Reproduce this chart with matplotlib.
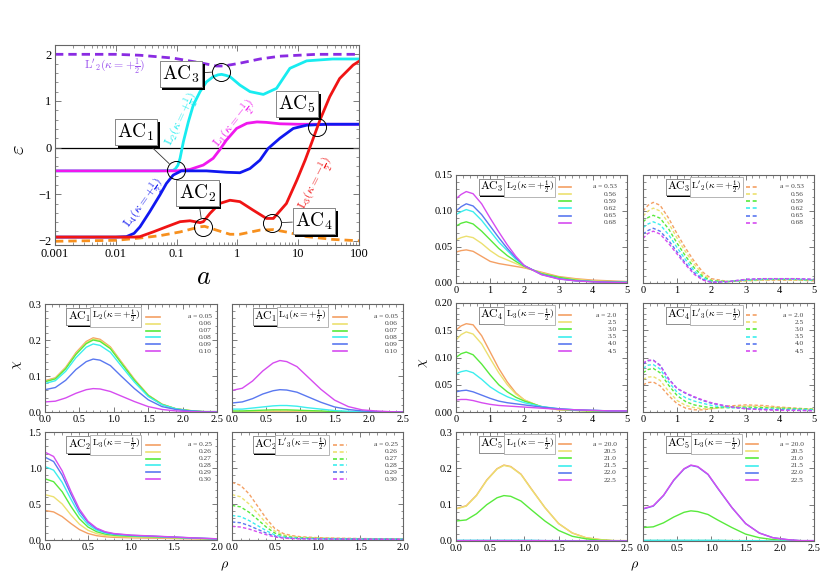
import matplotlib
matplotlib.use('Agg')
import matplotlib.pyplot as plt
from matplotlib import patheffects
from matplotlib.lines import Line2D
from matplotlib.ticker import MultipleLocator, FormatStrFormatter, LogLocator, NullFormatter, FixedLocator, FixedFormatter

plt.rcParams['font.family'] = ['Liberation Serif', 'DejaVu Serif']
plt.rcParams['mathtext.fontset'] = 'cm'

# ---------------- main panel: energy levels vs a ----------------
a_L2 = [0.001, 0.01, 0.05, 0.087, 0.095, 0.105, 0.114, 0.129, 0.156, 0.188, 0.243, 0.31, 0.40, 0.48, 0.55,
        0.64, 0.755, 1.1, 1.61, 2.67, 4.4, 7.3, 13.8, 37, 100]
eps_L2 = [-0.5, -0.5, -0.5, -0.49, -0.46, -0.38, -0.23, 0.12, 0.55, 0.91, 1.2, 1.41, 1.52, 1.56, 1.57,
          1.55, 1.52, 1.34, 1.2, 1.14, 1.27, 1.70, 1.86, 1.90, 1.90]

a_L1 = [0.001, 0.01, 0.1, 0.166, 0.275, 0.40, 0.51, 0.66, 0.97, 1.43, 2.1, 3.0, 5.0, 10, 17.6, 100]
eps_L1 = [-0.5, -0.5, -0.5, -0.47, -0.375, -0.23, -0.05, 0.16, 0.41, 0.52, 0.55, 0.54, 0.51, 0.5, 0.5, 0.5]

a_L4 = [0.001, 0.01, 0.015, 0.02, 0.025, 0.036, 0.053, 0.068, 0.088, 0.12, 0.31, 0.66, 1.1, 1.61,
        2.35, 3.2, 5.0, 8.3, 13.8, 30, 100]
eps_L4 = [-1.92, -1.92, -1.91, -1.84, -1.70, -1.38, -1.02, -0.77, -0.59, -0.5, -0.5, -0.53, -0.54, -0.45,
          -0.27, -0.02, 0.2, 0.41, 0.48, 0.5, 0.5]

a_L3 = [0.001, 0.01, 0.02, 0.025, 0.041, 0.068, 0.114, 0.166, 0.243, 0.275, 0.355, 0.51, 0.755, 1.1,
        1.8, 3.0, 3.9, 6.4, 9.5, 13, 16.5, 22.8, 33, 48, 80, 100]
eps_L3 = [-1.92, -1.92, -1.92, -1.91, -1.81, -1.70, -1.59, -1.57, -1.61, -1.59, -1.41, -1.20, -1.13, -1.16,
          -1.34, -1.52, -1.52, -1.20, -0.70, -0.27, 0.09, 0.59, 1.09, 1.48, 1.77, 1.85]

a_L2p = [0.001, 0.01, 0.025, 0.087, 0.24, 0.45, 0.6, 1.1, 2.35, 5.0, 20, 100]
eps_L2p = [2.0, 2.0, 1.98, 1.92, 1.82, 1.75, 1.75, 1.81, 1.9, 1.96, 2.0, 2.0]

a_L3p = [0.001, 0.01, 0.025, 0.053, 0.114, 0.243, 0.29, 0.45, 0.755, 1.1, 2.35, 3.9, 6.3, 13.8, 37, 100]
eps_L3p = [-2.01, -1.99, -1.94, -1.89, -1.81, -1.70, -1.69, -1.77, -1.86, -1.86, -1.77, -1.76, -1.81,
           -1.91, -1.97, -2.0]

# avoided crossings
ac_names = [r'$\mathrm{AC}_1$', r'$\mathrm{AC}_2$', r'$\mathrm{AC}_3$', r'$\mathrm{AC}_4$', r'$\mathrm{AC}_5$']
ac_a = [0.097, 0.267, 0.547, 3.77, 20.6]
ac_eps = [-0.48, -1.71, 1.63, -1.62, 0.45]

# ---------------- wavefunction panels ----------------
a_ac1 = ['0.05', '0.06', '0.07', '0.08', '0.09', '0.10']
a_ac2 = ['0.25', '0.26', '0.27', '0.28', '0.29', '0.30']
a_ac3 = ['0.53', '0.56', '0.59', '0.62', '0.65', '0.68']
a_ac4 = ['2.0', '2.5', '3.0', '3.5', '4.0', '4.5']
a_ac5 = ['20.0', '20.5', '21.0', '21.5', '22.0', '22.5']

# curve order in every panel: orange, yellow, green, cyan, blue, magenta
rho_ac1 = [0, 0.15, 0.3, 0.45, 0.6, 0.7, 0.8, 0.95, 1.1, 1.3, 1.5, 1.7, 1.9, 2.1, 2.3, 2.5]
chi_ac1_L2 = [
    [0.087, 0.095, 0.124, 0.165, 0.196, 0.206, 0.202, 0.181, 0.142, 0.091, 0.047, 0.022, 0.009, 0.004, 0.001, 0.001],
    [0.085, 0.093, 0.122, 0.162, 0.193, 0.203, 0.199, 0.179, 0.140, 0.089, 0.047, 0.021, 0.009, 0.004, 0.001, 0.001],
    [0.084, 0.092, 0.120, 0.160, 0.190, 0.200, 0.196, 0.176, 0.138, 0.088, 0.046, 0.021, 0.009, 0.004, 0.001, 0.001],
    [0.079, 0.087, 0.113, 0.151, 0.180, 0.189, 0.185, 0.166, 0.130, 0.083, 0.043, 0.020, 0.009, 0.003, 0.001, 0.001],
    [0.062, 0.068, 0.088, 0.118, 0.140, 0.147, 0.144, 0.129, 0.101, 0.065, 0.034, 0.015, 0.007, 0.003, 0.001, 0.000],
    [0.028, 0.030, 0.039, 0.052, 0.062, 0.065, 0.064, 0.057, 0.045, 0.029, 0.015, 0.007, 0.003, 0.001, 0.000, 0.000],
]
chi_ac1_L4 = [
    [0.0004, 0.0005, 0.0006, 0.0008, 0.001, 0.001, 0.001, 0.0009, 0.0007, 0.0004, 0.0002, 0.0001, 0, 0, 0, 0],
    [0.001, 0.001, 0.002, 0.002, 0.003, 0.003, 0.003, 0.003, 0.002, 0.001, 0.001, 0.000, 0, 0, 0, 0],
    [0.003, 0.003, 0.004, 0.005, 0.006, 0.006, 0.006, 0.005, 0.004, 0.003, 0.001, 0.001, 0, 0, 0, 0],
    [0.008, 0.008, 0.011, 0.014, 0.017, 0.018, 0.018, 0.016, 0.012, 0.008, 0.004, 0.002, 0.001, 0, 0, 0],
    [0.025, 0.028, 0.037, 0.050, 0.059, 0.062, 0.061, 0.055, 0.043, 0.027, 0.014, 0.007, 0.003, 0.001, 0, 0],
    [0.060, 0.066, 0.086, 0.114, 0.136, 0.143, 0.140, 0.126, 0.099, 0.063, 0.033, 0.015, 0.006, 0.003, 0.001, 0.000],
]

rho_ac2 = [0, 0.1, 0.2, 0.3, 0.4, 0.5, 0.6, 0.7, 0.8, 1.0, 1.25, 1.5, 1.75, 2.0]
chi_ac2_L3 = [
    [0.41, 0.39, 0.325, 0.23, 0.145, 0.09, 0.06, 0.045, 0.037, 0.03, 0.026, 0.02, 0.015, 0.01],
    [0.63, 0.60, 0.50, 0.35, 0.22, 0.135, 0.088, 0.063, 0.052, 0.042, 0.036, 0.028, 0.02, 0.012],
    [0.85, 0.81, 0.67, 0.47, 0.295, 0.18, 0.115, 0.082, 0.066, 0.052, 0.044, 0.034, 0.023, 0.014],
    [1.02, 0.97, 0.80, 0.57, 0.355, 0.215, 0.137, 0.097, 0.077, 0.06, 0.05, 0.038, 0.026, 0.015],
    [1.15, 1.09, 0.90, 0.64, 0.40, 0.245, 0.155, 0.108, 0.085, 0.065, 0.053, 0.040, 0.027, 0.016],
    [1.22, 1.16, 0.96, 0.68, 0.43, 0.26, 0.165, 0.115, 0.09, 0.068, 0.055, 0.042, 0.028, 0.017],
]
chi_ac2_L3p = [
    [0.80, 0.76, 0.64, 0.47, 0.30, 0.16, 0.09, 0.06, 0.046, 0.032, 0.025, 0.02, 0.017, 0.015],
    [0.63, 0.60, 0.50, 0.37, 0.235, 0.125, 0.072, 0.048, 0.037, 0.027, 0.021, 0.018, 0.015, 0.013],
    [0.48, 0.46, 0.385, 0.285, 0.18, 0.097, 0.056, 0.038, 0.03, 0.022, 0.018, 0.015, 0.013, 0.012],
    [0.34, 0.325, 0.27, 0.2, 0.13, 0.07, 0.041, 0.029, 0.023, 0.018, 0.015, 0.013, 0.012, 0.011],
    [0.25, 0.24, 0.2, 0.148, 0.096, 0.053, 0.032, 0.023, 0.019, 0.015, 0.013, 0.012, 0.011, 0.01],
    [0.19, 0.18, 0.152, 0.113, 0.074, 0.042, 0.026, 0.019, 0.016, 0.013, 0.012, 0.011, 0.01, 0.009],
]

rho_r = [0, 0.15, 0.3, 0.5, 0.75, 1.0, 1.25, 1.5, 1.75, 2.0, 2.5, 3.0, 3.5, 4.0, 4.5, 5.0]
chi_ac3_L2 = [
    [0.043, 0.045, 0.046, 0.044, 0.037, 0.030, 0.027, 0.025, 0.023, 0.021, 0.015, 0.009, 0.006, 0.004, 0.003, 0.002],
    [0.060, 0.063, 0.065, 0.063, 0.055, 0.045, 0.037, 0.032, 0.027, 0.022, 0.014, 0.008, 0.005, 0.003, 0.002, 0.002],
    [0.079, 0.083, 0.085, 0.082, 0.072, 0.060, 0.048, 0.038, 0.030, 0.023, 0.013, 0.008, 0.004, 0.002, 0.002, 0.001],
    [0.095, 0.099, 0.102, 0.099, 0.087, 0.072, 0.057, 0.045, 0.033, 0.024, 0.012, 0.006, 0.003, 0.002, 0.001, 0.001],
    [0.100, 0.106, 0.110, 0.107, 0.095, 0.079, 0.063, 0.048, 0.035, 0.024, 0.012, 0.006, 0.003, 0.002, 0.001, 0.001],
    [0.117, 0.123, 0.127, 0.124, 0.110, 0.090, 0.071, 0.053, 0.037, 0.024, 0.0115, 0.0055, 0.003, 0.0015, 0.001, 0.0005],
]
chi_ac3_L2p = [
    [0.100, 0.108, 0.112, 0.108, 0.090, 0.068, 0.048, 0.030, 0.015, 0.006, 0.002, 0.003, 0.004, 0.004, 0.004, 0.003],
    [0.093, 0.100, 0.104, 0.100, 0.083, 0.062, 0.043, 0.026, 0.012, 0.004, 0.002, 0.003, 0.004, 0.005, 0.004, 0.004],
    [0.085, 0.091, 0.094, 0.090, 0.075, 0.055, 0.037, 0.021, 0.009, 0.003, 0.002, 0.004, 0.005, 0.005, 0.005, 0.004],
    [0.077, 0.082, 0.085, 0.081, 0.067, 0.049, 0.032, 0.017, 0.007, 0.002, 0.002, 0.004, 0.005, 0.006, 0.005, 0.004],
    [0.068, 0.073, 0.076, 0.072, 0.059, 0.043, 0.027, 0.014, 0.005, 0.001, 0.002, 0.005, 0.006, 0.006, 0.006, 0.005],
    [0.062, 0.069, 0.072, 0.068, 0.055, 0.040, 0.025, 0.012, 0.004, 0.001, 0.002, 0.005, 0.006, 0.006, 0.006, 0.005],
]
chi_ac4_L3 = [
    [0.150, 0.158, 0.162, 0.160, 0.140, 0.110, 0.080, 0.055, 0.035, 0.022, 0.009, 0.004, 0.003, 0.002, 0.002, 0.001],
    [0.132, 0.142, 0.147, 0.143, 0.125, 0.098, 0.072, 0.050, 0.033, 0.022, 0.009, 0.004, 0.003, 0.002, 0.002, 0.001],
    [0.100, 0.107, 0.110, 0.105, 0.088, 0.068, 0.050, 0.037, 0.027, 0.020, 0.010, 0.005, 0.003, 0.002, 0.002, 0.001],
    [0.070, 0.074, 0.076, 0.072, 0.060, 0.046, 0.036, 0.028, 0.022, 0.017, 0.010, 0.006, 0.004, 0.003, 0.002, 0.002],
    [0.037, 0.039, 0.040, 0.037, 0.031, 0.025, 0.020, 0.017, 0.015, 0.013, 0.009, 0.006, 0.004, 0.003, 0.002, 0.002],
    [0.022, 0.023, 0.023, 0.021, 0.017, 0.014, 0.012, 0.011, 0.010, 0.009, 0.007, 0.005, 0.004, 0.003, 0.002, 0.002],
]
chi_ac4_L3p = [
    [0.050, 0.054, 0.055, 0.048, 0.030, 0.015, 0.007, 0.004, 0.004, 0.006, 0.011, 0.013, 0.012, 0.009, 0.007, 0.005],
    [0.060, 0.064, 0.065, 0.058, 0.038, 0.021, 0.012, 0.008, 0.006, 0.006, 0.009, 0.011, 0.010, 0.008, 0.006, 0.005],
    [0.072, 0.078, 0.080, 0.072, 0.049, 0.030, 0.019, 0.013, 0.010, 0.008, 0.008, 0.009, 0.008, 0.007, 0.006, 0.005],
    [0.080, 0.086, 0.087, 0.079, 0.055, 0.036, 0.026, 0.020, 0.016, 0.012, 0.008, 0.007, 0.006, 0.005, 0.005, 0.004],
    [0.088, 0.094, 0.095, 0.086, 0.061, 0.043, 0.034, 0.027, 0.021, 0.016, 0.010, 0.006, 0.005, 0.004, 0.003, 0.003],
    [0.090, 0.095, 0.095, 0.085, 0.060, 0.043, 0.035, 0.028, 0.022, 0.017, 0.010, 0.006, 0.004, 0.003, 0.003, 0.002],
]

rho_ac5 = [0, 0.15, 0.3, 0.45, 0.6, 0.7, 0.8, 0.95, 1.1, 1.3, 1.5, 1.7, 1.9, 2.1, 2.3, 2.5]
chi_ac5_L1 = [
    [0.089, 0.097, 0.126, 0.168, 0.199, 0.209, 0.205, 0.184, 0.144, 0.092, 0.048, 0.022, 0.009, 0.004, 0.001, 0.001],
    [0.088, 0.096, 0.125, 0.167, 0.198, 0.208, 0.204, 0.183, 0.143, 0.092, 0.048, 0.022, 0.009, 0.004, 0.001, 0.001],
    [0.055, 0.058, 0.075, 0.100, 0.119, 0.125, 0.123, 0.110, 0.086, 0.055, 0.029, 0.013, 0.006, 0.002, 0.001, 0.000],
    [0.002, 0.002, 0.002, 0.002, 0.002, 0.002, 0.002, 0.002, 0.002, 0.001, 0.001, 0.001, 0.000, 0.000, 0.000, 0.000],
    [0.001, 0.001, 0.001, 0.001, 0.001, 0.001, 0.001, 0.001, 0.001, 0.001, 0.001, 0.000, 0.000, 0.000, 0.000, 0.000],
    [0.001, 0.001, 0.001, 0.001, 0.001, 0.001, 0.001, 0.001, 0.001, 0.001, 0.000, 0.000, 0.000, 0.000, 0.000, 0.000],
]
chi_ac5_L3 = [
    [0.001, 0.001, 0.001, 0.001, 0.001, 0.001, 0.001, 0.001, 0.001, 0.001, 0.000, 0.000, 0.000, 0.000, 0.000, 0.000],
    [0.001, 0.001, 0.001, 0.001, 0.001, 0.001, 0.001, 0.001, 0.001, 0.001, 0.001, 0.000, 0.000, 0.000, 0.000, 0.000],
    [0.037, 0.039, 0.050, 0.066, 0.079, 0.083, 0.081, 0.073, 0.057, 0.037, 0.019, 0.009, 0.004, 0.001, 0.001, 0.000],
    [0.002, 0.002, 0.002, 0.002, 0.002, 0.002, 0.002, 0.002, 0.002, 0.001, 0.001, 0.001, 0.000, 0.000, 0.000, 0.000],
    [0.088, 0.096, 0.125, 0.167, 0.198, 0.208, 0.204, 0.183, 0.143, 0.092, 0.048, 0.022, 0.009, 0.004, 0.001, 0.001],
    [0.089, 0.097, 0.126, 0.168, 0.199, 0.209, 0.205, 0.184, 0.144, 0.092, 0.048, 0.022, 0.009, 0.004, 0.001, 0.001],
]

PANEL_COLORS = ['#f4a064', '#ece070', '#58ea3c', '#3ceeee', '#5a78f0', '#d64cf0']
FRAME = '#666666'
DASH = (0, (2.4, 1.6))


def style_axes(ax, fs):
    for s in ax.spines.values():
        s.set_color(FRAME)
        s.set_linewidth(0.8)
    ax.tick_params(which='both', direction='in', top=True, right=True, color=FRAME, labelsize=fs, pad=2.5)
    ax.tick_params(which='major', length=3.5, width=0.6)
    ax.tick_params(which='minor', length=1.8, width=0.5)


def shadow_box(t, off):
    t.get_bbox_patch().set_path_effects([
        patheffects.withSimplePatchShadow(offset=(off, -off), shadow_rgbFace='k', alpha=1.0),
        patheffects.Normal()])


def panel(ax, rho, curves, dashed, ac, lname, alabels, xlim, ylim, xstep, ystep, xfmt, yfmt,
          showy, geom):
    for c, y in zip(PANEL_COLORS, curves):
        ax.plot(rho, y, color=c, lw=1.0, ls=DASH if dashed else '-')
    ax.set_xlim(*xlim)
    ax.set_ylim(*ylim)
    ax.xaxis.set_major_locator(MultipleLocator(xstep))
    ax.xaxis.set_minor_locator(MultipleLocator(xstep / 5))
    ax.yaxis.set_major_locator(MultipleLocator(ystep))
    ax.yaxis.set_minor_locator(MultipleLocator(ystep / 5))
    ax.xaxis.set_major_formatter(FormatStrFormatter(xfmt))
    ax.yaxis.set_major_formatter(FormatStrFormatter(yfmt))
    style_axes(ax, 7.5)
    if not showy:
        ax.tick_params(labelleft=False)

    # boxed labels
    xac, xl, ytop, x0, x1, xt, dy = geom
    t = ax.text(xac, ytop, ac, transform=ax.transAxes, ha='center', va='center', fontsize=8.5,
                bbox=dict(boxstyle='square,pad=0.12', fc='white', ec='#888888', lw=0.6))
    shadow_box(t, 1.0)
    ax.text(xl, ytop, lname, transform=ax.transAxes, ha='center', va='center', fontsize=7,
            bbox=dict(boxstyle='square,pad=0.15', fc='white', ec='#aaaaaa', lw=0.6))

    # legend
    for i, (c, lab) in enumerate(zip(PANEL_COLORS, alabels)):
        y = ytop - i * dy
        ax.add_line(Line2D([x0, x1], [y, y], transform=ax.transAxes, color=c, lw=1.2,
                           ls=DASH if dashed else '-'))
        txt = ('a = ' + lab) if i == 0 else lab
        ax.text(xt, y, txt, transform=ax.transAxes, ha='right', va='center', fontsize=5.3,
                color='#444444')


fig = plt.figure(figsize=(8.31, 5.76), dpi=100)

# ---------------- main plot ----------------
ax = fig.add_axes([55 / 831, 1 - 245 / 576, 304 / 831, 200 / 576])
ax.axhline(0, color='k', lw=0.9, zorder=1)
ax.plot(a_L2p, eps_L2p, color='#8a2be2', lw=2.0, ls=(0, (3, 1.8)))
ax.plot(a_L3p, eps_L3p, color='#f7901e', lw=2.0, ls=(0, (3, 1.8)))
ax.plot(a_L2, eps_L2, color='#18ecf0', lw=2.0)
ax.plot(a_L1, eps_L1, color='#f018ee', lw=2.0)
ax.plot(a_L4, eps_L4, color='#1018f0', lw=2.0)
ax.plot(a_L3, eps_L3, color='#f01414', lw=2.0)
ax.plot(ac_a, ac_eps, ls='none', marker='o', ms=13, mfc='none', mec='k', mew=0.7)

ax.set_xscale('log')
ax.set_xlim(0.001, 100)
ax.set_ylim(-2.09, 2.2)
ax.xaxis.set_major_locator(FixedLocator([0.001, 0.01, 0.1, 1, 10, 100]))
ax.xaxis.set_major_formatter(FixedFormatter(['0.001', '0.01', '0.1', '1', '10', '100']))
ax.xaxis.set_minor_locator(LogLocator(base=10, subs=range(2, 10)))
ax.xaxis.set_minor_formatter(NullFormatter())
ax.yaxis.set_major_locator(MultipleLocator(1))
ax.yaxis.set_minor_locator(MultipleLocator(0.2))
style_axes(ax, 9)
ax.tick_params(which='major', length=4.5)
ax.tick_params(which='minor', length=2.2)

# curve labels
ax.text(0.125, 0.6, r'$\mathrm{L}_2(\kappa=+\frac{1}{2})$', color='#18ecf0', fontsize=8.5,
        rotation=65, ha='center', va='center')
ax.text(0.9, 0.5, r'$\mathrm{L}_1(\kappa=-\frac{1}{2})$', color='#f018ee', fontsize=8.5,
        rotation=52, ha='center', va='center')
ax.text(0.03, -1.2, r'$\mathrm{L}_4(\kappa=+\frac{1}{2})$', color='#1018f0', fontsize=8.5,
        rotation=55, ha='center', va='center')
ax.text(20, -0.78, r'$\mathrm{L}_3(\kappa=-\frac{1}{2})$', color='#f01414', fontsize=8.5,
        rotation=63, ha='center', va='center')
ax.text(0.0097, 1.75, r"$\mathrm{L}'_2(\kappa=+\frac{1}{2})$", color='#9a50ee', fontsize=8.5,
        ha='center', va='center')

# avoided-crossing callouts
box_pos = [(0.266, 0.565), (0.469, 0.258), (0.414, 0.855), (0.852, 0.12), (0.796, 0.705)]
for name, xa, ye, (bx, by) in zip(ac_names, ac_a, ac_eps, box_pos):
    ann = ax.annotate(name, xy=(xa, ye), xytext=(bx, by), textcoords='axes fraction',
                      ha='center', va='center', fontsize=14,
                      bbox=dict(boxstyle='square,pad=0.12', fc='white', ec='#888888', lw=0.7),
                      arrowprops=dict(arrowstyle='-', color='#333333', lw=0.6, shrinkA=0, shrinkB=6.5))
    shadow_box(ann, 2.0)

fig.text(204 / 831, 1 - 278 / 576, r'$a$', fontsize=19, ha='center', va='center')
fig.text(20 / 831, 1 - 150 / 576, r'$\varepsilon$', fontsize=15, rotation=90, ha='center', va='center')

# ---------------- left block (AC1, AC2) ----------------
geom_l = (0.2, 0.41, 0.882, 0.59, 0.67, 0.97, 0.064)
ax1 = fig.add_axes([45 / 831, 1 - 412 / 576, 172 / 831, 108 / 576])
panel(ax1, rho_ac1, chi_ac1_L2, False, ac_names[0], r'$\mathrm{L}_2(\kappa=+\frac{1}{2})$', a_ac1,
      (0, 2.5), (0, 0.3), 0.5, 0.1, '%.1f', '%.1f', True, geom_l)
ax2 = fig.add_axes([232 / 831, 1 - 412 / 576, 171 / 831, 108 / 576])
panel(ax2, rho_ac1, chi_ac1_L4, False, ac_names[0], r'$\mathrm{L}_4(\kappa=+\frac{1}{2})$', a_ac1,
      (0, 2.5), (0, 0.3), 0.5, 0.1, '%.1f', '%.1f', False, geom_l)
ax3 = fig.add_axes([45 / 831, 1 - 540 / 576, 172 / 831, 108 / 576])
panel(ax3, rho_ac2, chi_ac2_L3, False, ac_names[1], r'$\mathrm{L}_3(\kappa=-\frac{1}{2})$', a_ac2,
      (0, 2.0), (0, 1.5), 0.5, 0.5, '%.1f', '%.1f', True, geom_l)
ax4 = fig.add_axes([232 / 831, 1 - 540 / 576, 171 / 831, 108 / 576])
panel(ax4, rho_ac2, chi_ac2_L3p, True, ac_names[1], r"$\mathrm{L}'_3(\kappa=-\frac{1}{2})$", a_ac2,
      (0, 2.0), (0, 1.5), 0.5, 0.5, '%.1f', '%.1f', False, geom_l)

fig.text(18 / 831, 1 - 365 / 576, r'$\chi$', fontsize=10, rotation=90, ha='center', va='center')
fig.text(225 / 831, 1 - 566 / 576, r'$\rho$', fontsize=10, ha='center', va='center')

# ---------------- right block (AC3, AC4, AC5) ----------------
geom_r = (0.21, 0.43, 0.889, 0.60, 0.67, 0.94, 0.066)
rows = [(175, 283), (303, 412), (432, 541)]
cols = [456, 643]
specs = [
    (rho_r, chi_ac3_L2, False, ac_names[2], r'$\mathrm{L}_2(\kappa=+\frac{1}{2})$', a_ac3,
     (0, 5), (0, 0.15), 1, 0.05, '%d', '%.2f'),
    (rho_r, chi_ac3_L2p, True, ac_names[2], r"$\mathrm{L}'_2(\kappa=+\frac{1}{2})$", a_ac3,
     (0, 5), (0, 0.15), 1, 0.05, '%d', '%.2f'),
    (rho_r, chi_ac4_L3, False, ac_names[3], r'$\mathrm{L}_3(\kappa=-\frac{1}{2})$', a_ac4,
     (0, 5), (0, 0.2), 1, 0.05, '%d', '%.2f'),
    (rho_r, chi_ac4_L3p, True, ac_names[3], r"$\mathrm{L}'_3(\kappa=-\frac{1}{2})$", a_ac4,
     (0, 5), (0, 0.2), 1, 0.05, '%d', '%.2f'),
    (rho_ac5, chi_ac5_L1, False, ac_names[4], r'$\mathrm{L}_1(\kappa=-\frac{1}{2})$', a_ac5,
     (0, 2.5), (0, 0.3), 0.5, 0.1, '%.1f', '%.1f'),
    (rho_ac5, chi_ac5_L3, False, ac_names[4], r'$\mathrm{L}_3(\kappa=-\frac{1}{2})$', a_ac5,
     (0, 2.5), (0, 0.3), 0.5, 0.1, '%.1f', '%.1f'),
]
for k, sp in enumerate(specs):
    top, bot = rows[k // 2]
    left = cols[k % 2]
    axr = fig.add_axes([left / 831, 1 - bot / 576, 171 / 831, (bot - top) / 576])
    panel(axr, *sp, k % 2 == 0, geom_r)

fig.text(423 / 831, 1 - 363 / 576, r'$\chi$', fontsize=10, rotation=90, ha='center', va='center')
fig.text(635 / 831, 1 - 566 / 576, r'$\rho$', fontsize=10, ha='center', va='center')

fig.savefig('out.png', dpi=100)
